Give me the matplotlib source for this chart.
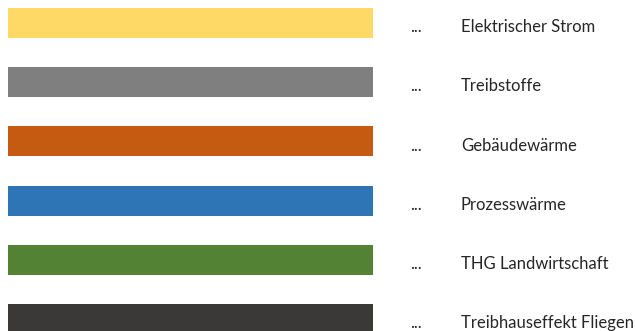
import matplotlib.pyplot as plt
import numpy as np

# Legend entries: category names and their colours
categories = ['Elektrischer Strom', 'Treibstoffe', 'Gebäudewärme',
              'Prozesswärme', 'THG Landwirtschaft', 'Treibhauseffekt Fliegen']
colors = ['#FFD966', '#7F7F7F', '#C55A11', '#2E75B6', '#548235', '#3B3838']
lengths = [1, 1, 1, 1, 1, 1]

fig = plt.figure(figsize=(6.35, 3.31), dpi=100)
ax = fig.add_axes([0, 0, 1, 1])

y = np.arange(len(categories))
ax.barh(y, lengths, height=0.507, color=colors, left=0)

for i, name in enumerate(categories):
    ax.text(1.101, i + 0.07, '...', ha='left', va='center',
            fontsize=12, family='Lato', color='#262626')
    ax.text(1.241, i + 0.07, name, ha='left', va='center',
            fontsize=12, family='Lato', color='#262626')

ax.set_xlim(-8 / 365, (635 - 8) / 365)
ax.set_ylim((331 - 23) / 59.2, -23 / 59.2)
ax.axis('off')

fig.savefig('out.png', dpi=100)
